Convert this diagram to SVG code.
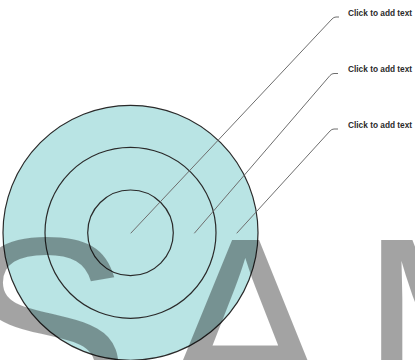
<svg xmlns="http://www.w3.org/2000/svg" width="415" height="360" viewBox="0 0 415 360">
<style>
.ring{fill:none;stroke:#2a2a2a;stroke-width:1.2}
.disc{fill:#b9e4e4;stroke:#2a2a2a;stroke-width:1.2}
.lead{fill:none;stroke:#6e6e6e;stroke-width:1}
.lbl{font-family:"Liberation Sans",Arial,sans-serif;font-size:8.3px;font-weight:bold;fill:#2b2b2b}
.wm{font-family:"Liberation Sans",Arial,sans-serif;font-size:255px;fill:#000;fill-opacity:0.36;letter-spacing:30px}
</style>
<rect width="415" height="360" fill="#fff"/>
<g id="outer"><circle cx="130.5" cy="232.8" r="127.5" class="disc"/></g>
<g id="middle"><circle cx="130.5" cy="232.8" r="85.5" class="ring"/></g>
<g id="inner"><circle cx="130.5" cy="232.8" r="42.8" class="ring"/></g>
<g id="connectors">
<path class="lead" d="M130.7,233.3 L332,19 Q333.8,17 336,17 L339,17"/>
<path class="lead" d="M194.3,233.3 L330,75.5 Q331.8,73.5 334,73.5 L338,73.5"/>
<path class="lead" d="M236.7,233.3 L330,131 Q331.8,129 334,129 L338,129"/>
</g>
<g id="label1"><text class="lbl" x="348" y="15.5">Click to add text</text></g>
<g id="label2"><text class="lbl" x="348" y="71.5">Click to add text</text></g>
<g id="label3"><text class="lbl" x="348" y="127.5">Click to add text</text></g>
<text class="wm" x="-40" y="415">SAMPLE</text>
</svg>
